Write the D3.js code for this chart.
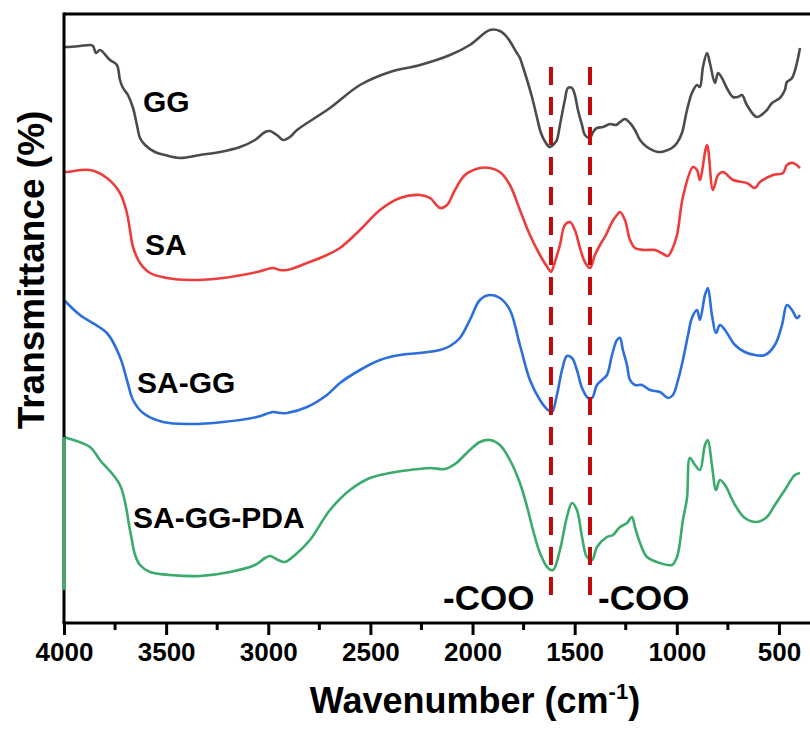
<!DOCTYPE html>
<html>
<head>
<meta charset="utf-8">
<script src="https://cdn.jsdelivr.net/npm/d3@7"></script>
<style>
  body { margin: 0; background: #fff; }
  svg { display: block; overflow: hidden; }
</style>
</head>
<body>
<svg id="chart"></svg>
<script>
// wavenumber (cm-1), transmittance (a.u., curves stacked with offsets)
const GG = [
  [4000,576],[3985,576],[3922,577],[3873,578],[3858,577],[3843,570],[3824,573],[3775,563],[3741,558],
  [3726,543],[3711,535],[3687,528],[3662,515],[3643,498],[3628,485],[3603,478],[3555,471],[3506,468],
  [3432,465],[3334,468],[3236,471],[3138,476],[3065,483],[3016,491],[2992,492],[2952,487],[2928,483],
  [2894,486],[2859,493],[2698,515],[2551,538],[2404,551],[2257,558],[2110,568],[2013,578],[1915,593],
  [1866,592],[1832,586],[1783,570],[1768,565],[1753,556],[1733,543],[1709,526],[1685,506],[1665,490],
  [1641,480],[1621,476],[1597,480],[1587,483],[1572,498],[1548,523],[1533,535],[1513,535],[1499,528],
  [1484,513],[1464,498],[1450,488],[1425,485],[1410,491],[1391,495],[1361,496],[1327,499],[1298,498],
  [1278,501],[1254,504],[1229,500],[1205,493],[1180,483],[1146,476],[1092,471],[1058,472],[1024,475],
  [999,480],[975,490],[950,513],[926,530],[901,538],[887,536],[872,556],[852,570],[838,560],[813,540],
  [798,550],[779,545],[755,535],[725,526],[701,526],[681,528],[657,518],[608,506],[559,513],[534,520],
  [495,525],[471,533],[461,541],[436,545],[397,575]
];

const SA = [
  [4000,451],[3985,451],[3873,453],[3790,445],[3726,430],[3692,410],[3677,393],[3662,376],[3628,360],
  [3579,350],[3496,345],[3383,343],[3222,345],[3055,351],[2977,355],[2943,353],[2908,353],[2810,360],
  [2713,368],[2649,375],[2551,393],[2453,413],[2355,425],[2257,428],[2208,425],[2159,415],[2125,418],
  [2086,433],[2037,448],[1964,455],[1915,455],[1866,451],[1817,438],[1768,413],[1719,388],[1670,368],
  [1631,355],[1616,351],[1597,361],[1572,378],[1548,398],[1523,401],[1499,393],[1474,375],[1450,361],
  [1425,355],[1401,368],[1376,378],[1347,388],[1317,401],[1293,408],[1278,411],[1254,403],[1229,383],
  [1205,375],[1156,373],[1107,373],[1058,368],[1043,367],[1024,373],[999,388],[970,426],[921,456],
  [901,453],[887,443],[852,478],[823,433],[798,448],[774,451],[725,443],[657,440],[617,435],[593,441],
  [529,448],[480,450],[461,458],[431,460],[397,455]
];

const SA_GG = [
  [4000,323],[3922,308],[3790,290],[3726,266],[3692,243],[3662,223],[3613,210],[3515,201],[3383,199],
  [3222,201],[3055,206],[2977,211],[2943,210],[2908,210],[2810,216],[2713,228],[2649,240],[2551,253],
  [2453,263],[2355,268],[2257,270],[2159,273],[2110,277],[2062,285],[2013,303],[1964,323],[1915,328],
  [1866,325],[1817,313],[1768,278],[1719,243],[1670,223],[1631,213],[1611,211],[1587,228],[1562,253],
  [1538,267],[1513,265],[1489,253],[1464,235],[1435,225],[1415,225],[1391,238],[1366,243],[1342,248],
  [1317,268],[1293,283],[1278,285],[1264,273],[1244,258],[1229,243],[1205,238],[1171,238],[1131,233],
  [1082,231],[1043,225],[1019,228],[994,243],[970,263],[945,288],[926,305],[901,313],[887,303],
  [862,328],[848,335],[828,308],[808,290],[789,298],[764,293],[715,278],[667,271],[617,268],[568,268],
  [520,278],[485,298],[461,318],[436,313],[412,305],[397,308]
];

const SA_GG_PDA = [
  [4000,186],[3985,185],[3873,176],[3824,163],[3726,138],[3677,93],[3652,68],[3628,58],[3579,51],
  [3481,48],[3334,47],[3187,51],[3065,58],[3016,65],[2992,67],[2952,63],[2918,61],[2869,68],[2796,83],
  [2698,113],[2600,133],[2502,145],[2404,150],[2306,153],[2208,155],[2135,154],[2086,159],[2013,173],
  [1964,181],[1915,183],[1866,178],[1817,163],[1768,140],[1734,117],[1704,93],[1670,70],[1631,55],
  [1606,53],[1572,73],[1538,106],[1513,120],[1489,113],[1464,86],[1440,66],[1415,63],[1391,76],
  [1342,86],[1313,88],[1278,96],[1244,100],[1220,106],[1205,96],[1180,80],[1146,66],[1082,60],
  [1024,58],[999,66],[970,103],[950,125],[936,165],[911,158],[887,153],[862,178],[848,183],[828,158],
  [808,133],[789,143],[764,138],[715,118],[667,105],[608,101],[559,106],[520,118],[471,133],[422,148],
  [397,150]
];

const seriesNames = ["GG", "SA", "SA-GG", "SA-GG-PDA"];
const seriesColors = ["#4b4b4b", "#ec3c3c", "#2b6fdc", "#3aab6b"];
const seriesData = [GG, SA, SA_GG, SA_GG_PDA];

const majorTicks = [4000, 3500, 3000, 2500, 2000, 1500, 1000, 500];
const minorTicks = [3750, 3250, 2750, 2250, 1750, 1250, 750];
const cooBands = [1616, 1425];

const width = 810;
const height = 729;
const plotLeft = 64;
const plotRight = 830;   // frame runs off the right edge
const plotTop = 14;
const plotBottom = 623;

const svg = d3.select("#chart")
  .attr("width", width)
  .attr("height", height)
  .style("font-family", "'Liberation Sans', Arial, sans-serif");

const x = d3.scaleLinear()
  .domain([4000, 250])
  .range([plotLeft, plotRight]);

const y = d3.scaleLinear()
  .domain([0, 609])
  .range([plotBottom, plotTop]);

const line = d3.line()
  .x(d => x(d[0]))
  .y(d => y(d[1]))
  .curve(d3.curveCatmullRom.alpha(0.5));

// spectra
seriesData.forEach((s, i) => {
  svg.append("path")
    .datum(s)
    .attr("fill", "none")
    .attr("stroke", seriesColors[i])
    .attr("stroke-width", 2.6)
    .attr("stroke-linejoin", "round")
    .attr("d", line);
});

// -COO marker lines
svg.selectAll(".band")
  .data(cooBands)
  .enter()
  .append("line")
  .attr("x1", d => x(d))
  .attr("x2", d => x(d))
  .attr("y1", 67)
  .attr("y2", 600)
  .attr("stroke", "#c00a0a")
  .attr("stroke-width", 4)
  .attr("stroke-dasharray", "18,12");

// frame
svg.append("line")
  .attr("x1", plotLeft).attr("x2", plotRight)
  .attr("y1", plotTop).attr("y2", plotTop)
  .attr("stroke", "#000").attr("stroke-width", 3);

svg.append("line")
  .attr("x1", plotLeft).attr("x2", plotLeft)
  .attr("y1", plotTop - 1.5).attr("y2", plotBottom)
  .attr("stroke", "#000").attr("stroke-width", 3);

// green curve sits on top of the left axis at its start
svg.append("line")
  .attr("x1", plotLeft).attr("x2", plotLeft)
  .attr("y1", y(SA_GG_PDA[0][1])).attr("y2", 590)
  .attr("stroke", seriesColors[3]).attr("stroke-width", 3);

const xAxis = svg.append("g")
  .attr("transform", `translate(0,${plotBottom})`)
  .call(d3.axisBottom(x).tickValues(majorTicks).tickSize(12).tickSizeOuter(0).tickFormat(d => d).tickPadding(8));

xAxis.select(".domain").attr("stroke-width", 3).attr("d", `M${plotLeft - 1.5},0H${plotRight}`);
xAxis.selectAll(".tick line").attr("stroke-width", 3);
xAxis.selectAll("text")
  .attr("font-size", 26)
  .attr("font-weight", "bold")
  .attr("fill", "#000")
  .attr("font-family", "'Liberation Sans', Arial, sans-serif");

svg.append("g")
  .selectAll("line")
  .data(minorTicks)
  .enter()
  .append("line")
  .attr("x1", d => x(d)).attr("x2", d => x(d))
  .attr("y1", plotBottom).attr("y2", plotBottom + 7)
  .attr("stroke", "#000").attr("stroke-width", 3);

// axis titles
const xTitle = svg.append("text")
  .attr("x", 475)
  .attr("y", 713)
  .attr("text-anchor", "middle")
  .attr("font-size", 36)
  .attr("font-weight", "bold");
xTitle.append("tspan").text("Wavenumber (cm");
xTitle.append("tspan").attr("font-size", 22).attr("dy", -14).text("-1");
xTitle.append("tspan").attr("dy", 14).text(")");

svg.append("text")
  .attr("transform", "translate(44,270) rotate(-90)")
  .attr("text-anchor", "middle")
  .attr("font-size", 37)
  .attr("font-weight", "bold")
  .text("Transmittance (%)");

// series labels
const labelPos = [[143, 112], [145, 255], [137, 393], [133, 528]];
svg.selectAll(".lbl")
  .data(seriesNames)
  .enter()
  .append("text")
  .attr("x", (d, i) => labelPos[i][0])
  .attr("y", (d, i) => labelPos[i][1])
  .attr("font-size", 30)
  .attr("font-weight", "bold")
  .text(d => d);

// -COO annotations
svg.append("text")
  .attr("x", 443).attr("y", 610)
  .attr("font-size", 35).attr("font-weight", "bold")
  .text("-COO");
svg.append("text")
  .attr("x", 598).attr("y", 610)
  .attr("font-size", 35).attr("font-weight", "bold")
  .text("-COO");
</script>
</body>
</html>
